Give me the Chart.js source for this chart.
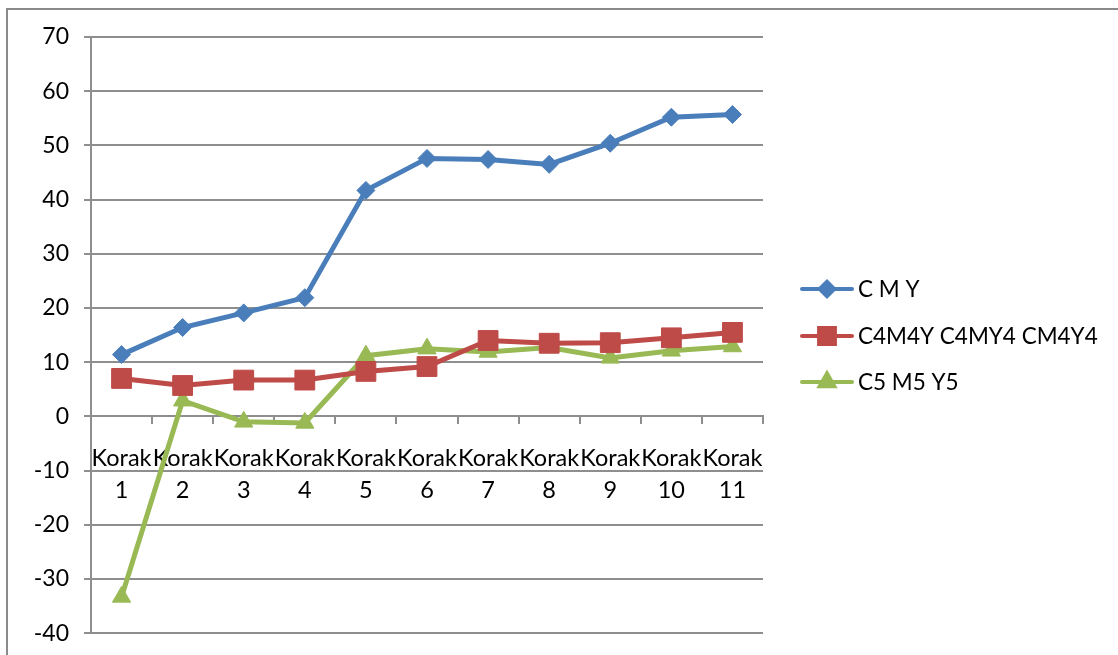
<!DOCTYPE html>
<html>
<head>
<meta charset="utf-8">
<script src="https://cdn.jsdelivr.net/npm/chart.js@4/dist/chart.umd.min.js"></script>
<style>
  html, body { margin: 0; padding: 0; background: #fff; overflow: hidden; }
  #frame { position: absolute; left: 6px; top: 8px; width: 1200px; height: 700px; border: 2px solid #8a8a8a; }
  #wrap { position: absolute; left: 0; top: 0; width: 1118px; height: 662px; }
</style>
</head>
<body>
<div id="frame"></div>
<div id="wrap"><canvas id="chart"></canvas></div>
<script>
// Podaci
const koraci = ['1', '2', '3', '4', '5', '6', '7', '8', '9', '10', '11'];
const seriesNames = ['C M Y', 'C4M4Y C4MY4 CM4Y4', 'C5 M5 Y5'];
const cmy = [11.4, 16.4, 19.1, 21.9, 41.7, 47.6, 47.4, 46.5, 50.4, 55.2, 55.7];
const c4m4y = [7.0, 5.7, 6.7, 6.7, 8.3, 9.2, 14.0, 13.5, 13.6, 14.5, 15.5];
const c5m5y5 = [-33.3, 2.9, -1.0, -1.2, 11.2, 12.5, 11.9, 12.7, 10.8, 12.1, 12.9];
const yTicks = [-40, -30, -20, -10, 0, 10, 20, 30, 40, 50, 60, 70];

const FONT = 'Lato, "Open Sans", sans-serif';
const gridColor = '#8e8e8e';

const styles = [
    { color: '#4a7ebb', pointStyle: 'rectRot', radius: 9 },
    { color: '#be4b48', pointStyle: 'rect', radius: 14 },
    { color: '#98b954', pointStyle: 'triangle', radius: 10.5 }
];

// Legenda: linija + marker, crta se na platnu
const lineLegend = {
    id: 'lineLegend',
    afterDraw(chart) {
        const ctx = chart.ctx;
        const area = chart.chartArea;
        const x0 = area.right + 39;
        const rows = [289, 336, 382];
        chart.data.datasets.forEach(function (ds, i) {
            const y = rows[i];
            ctx.save();
            ctx.strokeStyle = ds.borderColor;
            ctx.lineWidth = 4;
            ctx.lineCap = 'round';
            ctx.beginPath();
            ctx.moveTo(x0, y);
            ctx.lineTo(x0 + 50, y);
            ctx.stroke();
            ctx.fillStyle = ds.borderColor;
            ctx.strokeStyle = ds.borderColor;
            Chart.helpers.drawPoint(ctx, {
                pointStyle: ds.pointStyle,
                radius: ds.pointRadius * 0.8,
                rotation: 0,
                borderWidth: 1
            }, x0 + 25, y);
            ctx.fillStyle = '#000';
            ctx.font = '22.5px ' + FONT;
            ctx.textBaseline = 'middle';
            ctx.textAlign = 'left';
            ctx.fillText(ds.label, x0 + 56, y + 1);
            ctx.restore();
        });
    }
};

const datasets = [cmy, c4m4y, c5m5y5].map(function (values, i) {
    return {
        label: seriesNames[i],
        data: values,
        borderColor: styles[i].color,
        backgroundColor: styles[i].color,
        borderWidth: 5,
        pointStyle: styles[i].pointStyle,
        pointRadius: styles[i].radius,
        pointHoverRadius: styles[i].radius,
        pointBorderWidth: 1,
        tension: 0
    };
});

new Chart(document.getElementById('chart'), {
    type: 'line',
    data: {
        labels: koraci.map(function (k) { return ['Korak', k]; }),
        datasets: datasets
    },
    options: {
        responsive: true,
        maintainAspectRatio: false,
        animation: false,
        layout: { padding: { left: 0, top: 37, right: 355, bottom: 16 } },
        plugins: { legend: { display: false }, tooltip: { enabled: false } },
        scales: {
            x: {
                type: 'category',
                position: { y: 0 },
                offset: true,
                grid: {
                    offset: true,
                    drawOnChartArea: false,
                    drawTicks: true,
                    tickLength: 7,
                    color: gridColor,
                    lineWidth: 2
                },
                border: { display: true, color: gridColor, width: 2 },
                ticks: {
                    autoSkip: false,
                    maxRotation: 0,
                    minRotation: 0,
                    padding: 19,
                    color: '#000',
                    font: { family: FONT, size: 23.5, lineHeight: 1.36 }
                }
            },
            y: {
                min: -40,
                max: 70,
                afterFit: function (scale) { scale.width = 91; },
                afterBuildTicks: function (scale) {
                    scale.ticks = yTicks.map(function (v) { return { value: v }; });
                },
                grid: {
                    color: gridColor,
                    lineWidth: 2,
                    drawTicks: true,
                    tickLength: 7
                },
                border: { display: true, color: gridColor, width: 2 },
                ticks: {
                    padding: 15,
                    color: '#000',
                    font: { family: FONT, size: 23 }
                }
            }
        }
    },
    plugins: [lineLegend]
});
</script>
</body>
</html>
